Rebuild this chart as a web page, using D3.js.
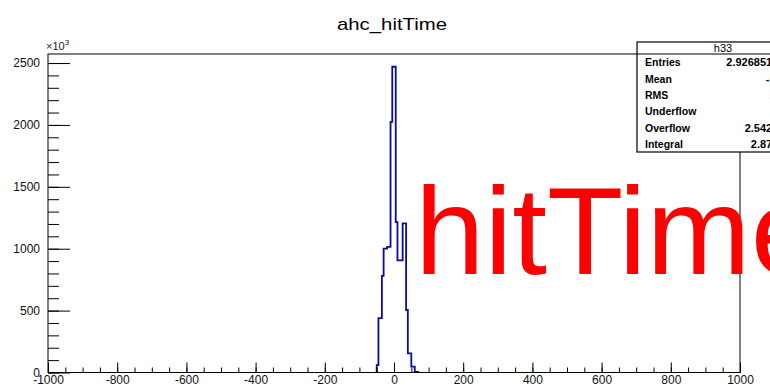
<!DOCTYPE html>
<html>
<head>
<meta charset="utf-8">
<script src="https://cdn.jsdelivr.net/npm/d3@7"></script>
<style>
  body { margin: 0; background: #fff; }
  svg { display: block; }
  text { font-family: "Liberation Sans", Arial, Helvetica, sans-serif; }
</style>
</head>
<body>
<svg id="mysvg"></svg>
<script>
// histogram content (counts in units of 10^3), bins
var binLowEdges = [-50, -45, -40, -35, -30, -25, -20, -15, -10, -5, 0, 5,
                   10, 15, 20, 25, 30, 35, 40, 45, 50, 55, 60, 65];
var binWidth = 5;
var counts = [60, 440, 440, 780, 1000, 1000, 1015, 1015, 2025, 2470, 2470, 1215,
              905, 905, 905, 1205, 1205, 505, 155, 155, 47, 47, 5, 5];

var xMajorTicks = [-1000, -800, -600, -400, -200, 0, 200, 400, 600, 800, 1000];
var yMajorTicks = [0, 500, 1000, 1500, 2000, 2500];

var statLabels = ["Entries", "Mean", "RMS", "Underflow", "Overflow", "Integral"];
var statValues = ["2.926851e+07", "-5.137", "17.85", "0", "2.542e+05", "2.87e+07"];

var W = 770, H = 389;
var svg = d3.select("#mysvg").attr("width", W).attr("height", H);

// frame
var FL = 48, FR = 740, FT = 54, FB = 372.5;
var x = d3.scaleLinear().domain([-1000, 1000]).range([FL, FR]);
var y = d3.scaleLinear().domain([0, 2573]).range([FB, FT]);

// title
svg.append("text")
    .attr("x", 392).attr("y", 30)
    .attr("text-anchor", "middle")
    .attr("font-size", 17)
    .attr("textLength", 110)
    .attr("lengthAdjust", "spacingAndGlyphs")
    .text("ahc_hitTime");

// histogram contour
var pts = [[x(binLowEdges[0]), y(0)]];
binLowEdges.forEach(function(lo, i) {
    pts.push([x(lo), y(counts[i])]);
    pts.push([x(lo + binWidth), y(counts[i])]);
});
pts.push([x(binLowEdges[binLowEdges.length - 1] + binWidth), y(0)]);

svg.append("path")
    .attr("d", d3.line()(pts))
    .attr("fill", "none")
    .attr("stroke", "#0a0aa0")
    .attr("stroke-width", 1.8);

// axes: ticks point inward like ROOT
var xMinor = d3.range(-1000, 1001, 50);
var yMinor = d3.range(0, 2573, 100);

var gx = svg.append("g").attr("transform", "translate(0," + FB + ")");
gx.call(d3.axisBottom(x).tickValues(xMinor).tickSize(-5).tickFormat(""));
gx.append("g").call(d3.axisBottom(x).tickValues(xMajorTicks).tickSize(-10)
    .tickPadding(3).tickFormat(function(d) { return String(d); }));

var gy = svg.append("g").attr("transform", "translate(" + FL + ",0)");
gy.call(d3.axisLeft(y).tickValues(yMinor).tickSize(-11).tickFormat(""));
gy.append("g").call(d3.axisLeft(y).tickValues(yMajorTicks).tickSize(-22)
    .tickPadding(8).tickFormat(function(d) { return String(d); }));

svg.selectAll(".domain").remove();
svg.selectAll(".tick line").attr("stroke", "#000");
svg.selectAll(".tick text")
    .attr("font-size", 12)
    .attr("font-family", "Liberation Sans, Arial, sans-serif")
    .attr("fill", "#111");

svg.append("rect")
    .attr("x", FL).attr("y", FT)
    .attr("width", FR - FL).attr("height", FB - FT)
    .attr("fill", "none").attr("stroke", "#000").attr("stroke-width", 1);

// exponent label
var ex = svg.append("text")
    .attr("x", 46).attr("y", 50)
    .attr("font-size", 11)
    .attr("fill", "#222");
ex.append("tspan").text("\u00d710");
ex.append("tspan").attr("dy", -5).attr("font-size", 8).text("3");

// stats box
var SB = {x: 637, y: 42, w: 172, h: 110};
svg.append("rect")
    .attr("x", SB.x).attr("y", SB.y)
    .attr("width", SB.w).attr("height", SB.h)
    .attr("fill", "#fff").attr("stroke", "#000").attr("stroke-width", 1.2);
svg.append("line")
    .attr("x1", SB.x).attr("x2", SB.x + SB.w)
    .attr("y1", FT).attr("y2", FT)
    .attr("stroke", "#000").attr("stroke-width", 1.2);
svg.append("text")
    .attr("x", SB.x + SB.w / 2).attr("y", 52)
    .attr("text-anchor", "middle")
    .attr("font-size", 11)
    .text("h33");

var rowH = (SB.y + SB.h - FT) / statLabels.length;
statLabels.forEach(function(lab, i) {
    var by = FT + rowH * (i + 0.5) + 4;
    svg.append("text")
        .attr("x", SB.x + 8).attr("y", by)
        .attr("font-size", 10.5).attr("font-weight", "bold")
        .text(lab);
    svg.append("text")
        .attr("x", 797).attr("y", by)
        .attr("text-anchor", "end")
        .attr("font-size", 11).attr("font-weight", "bold")
        .text(statValues[i]);
});

// big red label
svg.append("text")
    .attr("x", 415).attr("y", 274)
    .attr("font-size", 125)
    .attr("fill", "#ff0000")
    .text("hitTime");
</script>
</body>
</html>
